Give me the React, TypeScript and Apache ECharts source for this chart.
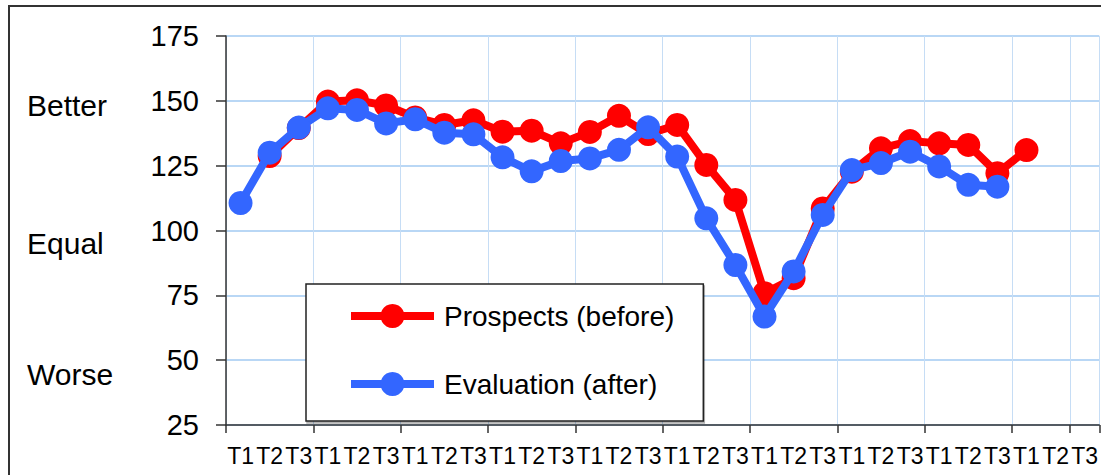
import React, { useEffect, useRef } from "react";
import * as echarts from "echarts";

const categories = [
  "T1", "T2", "T3", "T1", "T2", "T3", "T1", "T2", "T3", "T1",
  "T2", "T3", "T1", "T2", "T3", "T1", "T2", "T3", "T1", "T2",
  "T3", "T1", "T2", "T3", "T1", "T2", "T3", "T1", "T2", "T3",
];

const prospects = [
  null, 128.7, 139.5, 149.7, 150.2, 148.2, 143.6, 140.7, 142.5, 138.1,
  138.5, 133.6, 138.0, 144.2, 137.2, 140.7, 125.3, 111.8, 75.8, 81.6,
  108.5, 122.7, 131.7, 134.5, 133.6, 133.0, 122.1, 131.0, null, null,
];

const evaluation = [
  110.6, 130.0, 139.7, 147.1, 146.5, 141.3, 142.9, 137.7, 137.1, 128.2,
  122.8, 126.8, 127.8, 131.1, 139.8, 128.5, 104.7, 86.7, 66.8, 84.2,
  106.0, 123.3, 126.0, 130.4, 124.7, 117.6, 116.9, null, null, null,
];

const yTicks = { min: 25, max: 175, interval: 25 };
const sideLabels = [
  { text: "Better", y: 107.5 },
  { text: "Equal", y: 245 },
  { text: "Worse", y: 376 },
];

const FONT = '"Liberation Sans", Arial, sans-serif';

export default function App() {
  const ref = useRef<HTMLDivElement>(null);
  useEffect(() => {
    if (!ref.current) return;
    const chart = echarts.init(ref.current, undefined, { renderer: "svg" });
    chart.setOption({
      animation: false,
      backgroundColor: "#ffffff",
      grid: { left: 226, top: 36, width: 881, bottom: 50, containLabel: false },
      xAxis: {
        type: "category",
        data: categories,
        boundaryGap: true,
        axisLine: { show: true, lineStyle: { color: "#333333", width: 1.5 } },
        axisTick: { show: true, interval: 2, length: 8, inside: false, lineStyle: { color: "#333333", width: 1.5 } },
        axisLabel: { interval: 0, margin: 19.5, color: "#000", fontSize: 23, fontFamily: FONT },
        splitLine: { show: true, interval: 2, lineStyle: { color: "#c6ddf5", width: 1 } },
      },
      yAxis: {
        type: "value",
        min: yTicks.min,
        max: yTicks.max,
        interval: yTicks.interval,
        axisLine: { show: true, lineStyle: { color: "#333333", width: 1.5 } },
        axisTick: { show: true, length: 10, inside: false, lineStyle: { color: "#333333", width: 1.5 } },
        axisLabel: { margin: 27, color: "#000", fontSize: 29, fontFamily: FONT },
        splitLine: { show: true, lineStyle: { color: "#b9d7f5", width: 2 } },
      },
      legend: {
        left: 306,
        top: 284,
        orient: "vertical",
        itemWidth: 83,
        itemHeight: 30,
        itemGap: 34,
        padding: [15, 29, 20, 41],
        backgroundColor: "#ffffff",
        borderColor: "#222222",
        borderWidth: 1.5,
        shadowColor: "rgba(0,0,0,0.3)",
        shadowBlur: 1,
        shadowOffsetX: 1,
        shadowOffsetY: 2,
        lineStyle: { width: 8 },
        textStyle: { fontSize: 28, fontFamily: FONT, color: "#000", lineHeight: 34, padding: [0, 0, 0, 5] },
        data: ["Prospects (before)", "Evaluation (after)"],
      },
      graphic: [
        {
          type: "rect",
          z: -10,
          silent: true,
          shape: { x: 9, y: 6, width: 1300, height: 700 },
          style: { fill: "none", stroke: "#333333", lineWidth: 2 },
        },
        ...sideLabels.map((s) => ({
          type: "text",
          left: 27,
          top: s.y - 16.7,
          style: { text: s.text, fontSize: 30, fontFamily: FONT, fill: "#000" },
        })),
      ],
      series: [
        {
          name: "Prospects (before)",
          type: "line",
          data: prospects,
          symbol: "circle",
          symbolSize: 24,
          lineStyle: { color: "#ff0000", width: 8 },
          itemStyle: { color: "#ff0000" },
          z: 2,
        },
        {
          name: "Evaluation (after)",
          type: "line",
          data: evaluation,
          symbol: "circle",
          symbolSize: 24,
          lineStyle: { color: "#3366ff", width: 8 },
          itemStyle: { color: "#3366ff" },
          z: 3,
        },
      ],
    });
    return () => chart.dispose();
  }, []);
  return (
    <div
      ref={ref}
      style={{ position: "absolute", left: 0, top: 0, width: 1101, height: 475 }}
    />
  );
}
